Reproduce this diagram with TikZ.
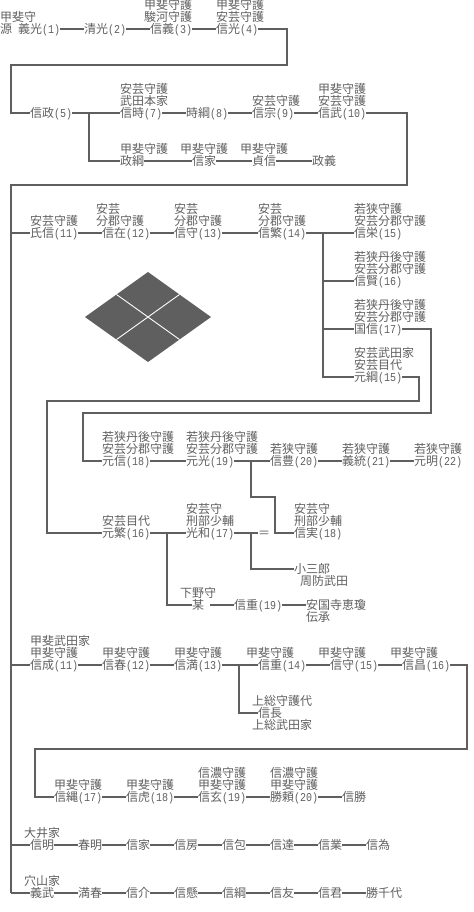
\documentclass[tikz,border=0pt]{standalone}
\usepackage{fontspec}
\setmainfont{Noto Sans CJK JP}
\newfontfamily\hwfont[FakeStretch=0.833]{Liberation Mono}
\definecolor{ink}{HTML}{5F5F5F}
\newcommand\hw[1]{{\hwfont\fontsize{12bp}{12bp}\selectfont #1}}
\newcount\upc
\newcommand\nm[4]{\node[tx] (#1) at (#2,#3) {#4};}
\newcommand\up[3]{\global\advance\upc by 1 \node[tx] (u\the\upc) at (#1,#2) {#3};}
\tikzset{
  tx/.style={inner sep=0pt,anchor=west,text=ink,text height=10bp,text depth=2bp,font=\fontsize{12bp}{12bp}\selectfont},
  ln/.style={draw=ink,line width=2bp,line join=miter}
}
\begin{document}
\begin{tikzpicture}[x=1bp,y=-1bp]
\useasboundingbox (0,0) rectangle (474,912);
% Row 1
\up{0}{17}{甲斐守}
\nm{a1}{0}{29}{源\hspace{6bp}義光\hw{(1)}}
\nm{a2}{84}{29}{清光\hw{(2)}}
\up{144}{5}{甲斐守護}\up{144}{17}{駿河守護}
\nm{a3}{150}{29}{信義\hw{(3)}}
\up{216}{5}{甲斐守護}\up{216}{17}{安芸守護}
\nm{a4}{216}{29}{信光\hw{(4)}}
% Row 2
\nm{b5}{30}{113}{信政\hw{(5)}}
\up{120}{89}{安芸守護}\up{120}{101}{武田本家}
\nm{b7}{120}{113}{信時\hw{(7)}}
\nm{b8}{186}{113}{時綱\hw{(8)}}
\up{252}{101}{安芸守護}
\nm{b9}{252}{113}{信宗\hw{(9)}}
\up{318}{89}{甲斐守護}\up{318}{101}{安芸守護}
\nm{b10}{318}{113}{信武\hw{(10)}}
\up{120}{149}{甲斐守護}\up{180}{149}{甲斐守護}\up{240}{149}{甲斐守護}
\nm{c1}{120}{161}{政綱}
\nm{c2}{192}{161}{信家}
\nm{c3}{252}{161}{貞信}
\nm{c4}{312}{161}{政義}
% Row 3
\up{30}{221}{安芸守護}
\nm{d11}{30}{233}{氏信\hw{(11)}}
\up{96}{209}{安芸}\up{96}{221}{分郡守護}
\nm{d12}{102}{233}{信在\hw{(12)}}
\up{174}{209}{安芸}\up{174}{221}{分郡守護}
\nm{d13}{174}{233}{信守\hw{(13)}}
\up{258}{209}{安芸}\up{258}{221}{分郡守護}
\nm{d14}{258}{233}{信繁\hw{(14)}}
\up{354}{209}{若狭守護}\up{354}{221}{安芸分郡守護}
\nm{e15}{354}{233}{信栄\hw{(15)}}
\up{354}{257}{若狭丹後守護}\up{354}{269}{安芸分郡守護}
\nm{e16}{354}{281}{信賢\hw{(16)}}
\up{354}{305}{若狭丹後守護}\up{354}{317}{安芸分郡守護}
\nm{e17}{354}{329}{国信\hw{(17)}}
\up{354}{353}{安芸武田家}\up{354}{365}{安芸目代}
\nm{e18}{354}{377}{元綱\hw{(15)}}
% Row 4
\up{102}{437}{若狭丹後守護}\up{102}{449}{安芸分郡守護}
\nm{f18}{102}{461}{元信\hw{(18)}}
\up{186}{437}{若狭丹後守護}\up{186}{449}{安芸分郡守護}
\nm{f19}{186}{461}{元光\hw{(19)}}
\up{270}{449}{若狭守護}
\nm{f20}{270}{461}{信豊\hw{(20)}}
\up{342}{449}{若狭守護}
\nm{f21}{342}{461}{義統\hw{(21)}}
\up{414}{449}{若狭守護}
\nm{f22}{414}{461}{元明\hw{(22)}}
% Row 5
\up{102}{521}{安芸目代}
\nm{g16}{102}{533}{元繁\hw{(16)}}
\up{186}{509}{安芸守}\up{186}{521}{刑部少輔}
\nm{g17}{186}{533}{光和\hw{(17)}}
\nm{geq}{258}{533}{＝}
\up{294}{509}{安芸守}\up{294}{521}{刑部少輔}
\nm{g18}{294}{533}{信実\hw{(18)}}
\nm{h1}{294}{569}{小三郎}
\up{300}{581}{周防武田}
\up{180}{593}{下野守}
\nm{i1}{192}{605}{某}
\nm{i2}{234}{605}{信重\hw{(19)}}
\nm{i3}{306}{605}{安国寺恵瓊}
\up{306}{617}{伝承}
% Row 6
\up{30}{641}{甲斐武田家}\up{30}{653}{甲斐守護}
\nm{j11}{30}{665}{信成\hw{(11)}}
\up{102}{653}{甲斐守護}
\nm{j12}{102}{665}{信春\hw{(12)}}
\up{174}{653}{甲斐守護}
\nm{j13}{174}{665}{信満\hw{(13)}}
\up{246}{653}{甲斐守護}
\nm{j14}{258}{665}{信重\hw{(14)}}
\up{318}{653}{甲斐守護}
\nm{j15}{330}{665}{信守\hw{(15)}}
\up{390}{653}{甲斐守護}
\nm{j16}{402}{665}{信昌\hw{(16)}}
\up{252}{701}{上総守護代}
\nm{k1}{258}{713}{信長}
\up{252}{725}{上総武田家}
% Row 7
\up{54}{785}{甲斐守護}
\nm{m17}{54}{797}{信縄\hw{(17)}}
\up{126}{785}{甲斐守護}
\nm{m18}{126}{797}{信虎\hw{(18)}}
\up{198}{773}{信濃守護}\up{198}{785}{甲斐守護}
\nm{m19}{198}{797}{信玄\hw{(19)}}
\up{270}{773}{信濃守護}\up{270}{785}{甲斐守護}
\nm{m20}{270}{797}{勝頼\hw{(20)}}
\nm{m21}{342}{797}{信勝}
% Oi
\up{24}{833}{大井家}
\nm{o1}{30}{845}{信明}\nm{o2}{78}{845}{春明}\nm{o3}{126}{845}{信家}\nm{o4}{174}{845}{信房}
\nm{o5}{222}{845}{信包}\nm{o6}{270}{845}{信達}\nm{o7}{318}{845}{信業}\nm{o8}{366}{845}{信為}
% Anayama
\up{24}{881}{穴山家}
\nm{p1}{30}{893}{義武}\nm{p2}{78}{893}{満春}\nm{p3}{126}{893}{信介}\nm{p4}{174}{893}{信懸}
\nm{p5}{222}{893}{信綱}\nm{p6}{270}{893}{信友}\nm{p7}{318}{893}{信君}\nm{p8}{366}{893}{勝千代}
% Waypoints
\coordinate (t0) at (11,185);
\coordinate (t1) at (11,893);
\coordinate (r1) at (287,65);
\coordinate (r2) at (407,185);
\coordinate (r3) at (431,413);
\coordinate (r4) at (419,401);
\coordinate (r5) at (467,749);
\coordinate (w1) at (11,65);
\coordinate (w3) at (83,413);
\coordinate (w4) at (47,401);
\coordinate (w5) at (35,749);
\coordinate (bb) at (89,113);
\coordinate (bd) at (323,233);
\coordinate (bf) at (251,461);
\coordinate (bg) at (251,533);
\coordinate (bg2) at (167,533);
\coordinate (bj) at (239,665);
\coordinate (kink1) at (275,497);
% Connectors
\draw[ln] (a1.east) -- (a2.west);
\draw[ln] (a2.east) -- (a3.west);
\draw[ln] (a3.east) -- (a4.west);
\draw[ln] (a4.east) -| (r1) -- (w1) |- (b5.west);
\draw[ln] (b5.east) -- (b7.west);
\draw[ln] (b7.east) -- (b8.west);
\draw[ln] (b8.east) -- (b9.west);
\draw[ln] (b9.east) -- (b10.west);
\draw[ln] (b10.east) -| (r2) -- (t0) -- (t1);
\draw[ln] (bb) |- (c1.west);
\draw[ln] (c1.east) -- (c2.west);
\draw[ln] (c2.east) -- (c3.west);
\draw[ln] (c3.east) -- (c4.west);
\draw[ln] (t0 |- d11) -- (d11.west);
\draw[ln] (d11.east) -- (d12.west);
\draw[ln] (d12.east) -- (d13.west);
\draw[ln] (d13.east) -- (d14.west);
\draw[ln] (d14.east) -- (e15.west);
\draw[ln] (bd) |- (e18.west);
\draw[ln] (bd |- e16) -- (e16.west);
\draw[ln] (bd |- e17) -- (e17.west);
\draw[ln] (e17.east) -| (r3) -- (w3) |- (f18.west);
\draw[ln] (e18.east) -| (r4) -- (w4) |- (g16.west);
\draw[ln] (f18.east) -- (f19.west);
\draw[ln] (f19.east) -- (f20.west);
\draw[ln] (f20.east) -- (f21.west);
\draw[ln] (f21.east) -- (f22.west);
\draw[ln] (bf) |- (kink1) |- (g18.west);
\draw[ln] (g16.east) -- (g17.west);
\draw[ln] (g17.east) -- (geq.west);
\draw[ln] (bg) |- (h1.west);
\draw[ln] (bg2) |- (i1.west);
\draw[ln] (i1.east) ++(6,0) -- (i2.west);
\draw[ln] (i2.east) -- (i3.west);
\draw[ln] (t0 |- j11) -- (j11.west);
\draw[ln] (j11.east) -- (j12.west);
\draw[ln] (j12.east) -- (j13.west);
\draw[ln] (j13.east) -- (j14.west);
\draw[ln] (j14.east) -- (j15.west);
\draw[ln] (j15.east) -- (j16.west);
\draw[ln] (bj) |- (k1.west);
\draw[ln] (j16.east) -| (r5) -- (w5) |- (m17.west);
\draw[ln] (m17.east) -- (m18.west);
\draw[ln] (m18.east) -- (m19.west);
\draw[ln] (m19.east) -- (m20.west);
\draw[ln] (m20.east) -- (m21.west);
\draw[ln] (t0 |- o1) -- (o1.west);
\draw[ln] (o1.east) -- (o2.west);
\draw[ln] (o2.east) -- (o3.west);
\draw[ln] (o3.east) -- (o4.west);
\draw[ln] (o4.east) -- (o5.west);
\draw[ln] (o5.east) -- (o6.west);
\draw[ln] (o6.east) -- (o7.west);
\draw[ln] (o7.east) -- (o8.west);
\draw[ln] (t1) -- (p1.west);
\draw[ln] (p1.east) -- (p2.west);
\draw[ln] (p2.east) -- (p3.west);
\draw[ln] (p3.east) -- (p4.west);
\draw[ln] (p4.east) -- (p5.west);
\draw[ln] (p5.east) -- (p6.west);
\draw[ln] (p6.east) -- (p7.west);
\draw[ln] (p7.east) -- (p8.west);
% Crest
\fill[ink] (148,272) -- (211,317) -- (148,362) -- (85,317) -- cycle;
\draw[white,line width=0.9bp] (116.5,294.5) -- (179.5,339.5);
\draw[white,line width=0.9bp] (179.5,294.5) -- (116.5,339.5);
\end{tikzpicture}
\end{document}
